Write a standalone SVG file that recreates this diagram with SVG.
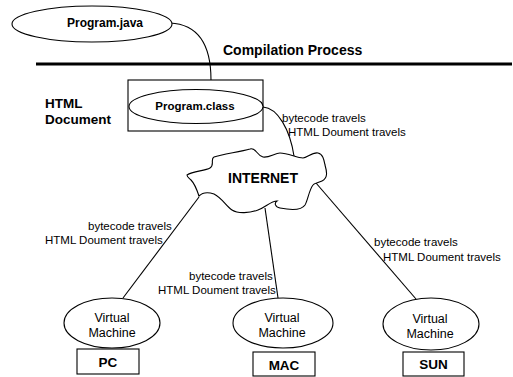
<svg xmlns="http://www.w3.org/2000/svg" width="513" height="377" viewBox="0 0 513 377">
<style>
.s{fill:#fff;stroke:#000;stroke-width:1.1}
.c{fill:none;stroke:#000;stroke-width:1.1}
.b{font-family:"Liberation Sans",Arial,sans-serif;font-weight:bold;fill:#000}
.n{font-family:"Liberation Sans",Arial,sans-serif;fill:#000}
.l{font-family:"Liberation Sans",Arial,sans-serif;font-size:11.5px;fill:#000}
</style>
<rect width="513" height="377" fill="#fff"/>
<g id="connectors">
<path class="c" d="M170,23 Q211,25 211,80"/>
<path class="c" d="M263,107 C278,108 290,130 294,156"/>
<line class="c" x1="199" y1="197" x2="123" y2="298"/>
<line class="c" x1="265" y1="208" x2="278" y2="298"/>
<line class="c" x1="316" y1="183" x2="416" y2="299"/>
</g>
<g id="divider">
<line x1="36" y1="64" x2="512" y2="64" stroke="#000" stroke-width="3"/>
<text class="b" x="223" y="55" font-size="14">Compilation Process</text>
</g>
<g id="program-java">
<ellipse class="s" cx="92" cy="24" rx="80" ry="18"/>
<text class="b" x="105" y="27" font-size="12" text-anchor="middle">Program.java</text>
</g>
<g id="html-document">
<text class="b" x="45" y="108" font-size="13.5">HTML</text>
<text class="b" x="45" y="124" font-size="13.5">Document</text>
<rect class="s" x="128" y="80" width="135" height="51"/>
</g>
<g id="program-class">
<ellipse class="s" cx="196" cy="106.5" rx="67" ry="17"/>
<text class="b" x="195" y="110" font-size="11.5" text-anchor="middle">Program.class</text>
</g>
<g id="internet">
<path class="s" d="M187,175 C193,171 205,171 210,168 C215,165 210,159 214,157 C222,154 240,152 250,149 C256,147 256,155 263,157 C269,158 275,153 280,153 C288,153 297,158 303,158 C307,158 312,152 318,153 C323,154 324,160 325,165 C327,172 328,178 322,181 C318,183 314,183 313,185 C309,190 308,200 305,205 C301,211 290,210 280,208 C275,207 274,203 277,201 C271,201 266,207 258,210 C250,213 238,214 232,210 C226,206 222,198 214,194 C208,192 203,192 199,196 C197,190 195,184 191,180 C189,178 187,177 187,175 Z"/>
<text class="b" x="263" y="183" font-size="14" text-anchor="middle">INTERNET</text>
</g>
<g id="labels">
<text class="l" x="282" y="122">bytecode travels</text>
<text class="l" x="288" y="136">HTML Doument travels</text>
<text class="l" x="88" y="230">bytecode travels</text>
<text class="l" x="45" y="244">HTML Doument travels</text>
<text class="l" x="189" y="280">bytecode travels</text>
<text class="l" x="158" y="294">HTML Doument travels</text>
<text class="l" x="374" y="246">bytecode travels</text>
<text class="l" x="383" y="261">HTML Doument travels</text>
</g>
<g id="vm-pc">
<ellipse class="s" cx="112" cy="323" rx="48" ry="25"/>
<text class="n" x="112" y="322" font-size="12.5" text-anchor="middle">Virtual</text>
<text class="n" x="112" y="337" font-size="12.5" text-anchor="middle">Machine</text>
</g>
<g id="pc">
<rect class="s" x="77" y="349" width="62" height="25"/>
<text class="b" x="108" y="367" font-size="13.5" text-anchor="middle">PC</text>
</g>
<g id="vm-mac">
<ellipse class="s" cx="283" cy="323" rx="50" ry="25"/>
<text class="n" x="282" y="322" font-size="12.5" text-anchor="middle">Virtual</text>
<text class="n" x="282" y="337" font-size="12.5" text-anchor="middle">Machine</text>
</g>
<g id="mac">
<rect class="s" x="253" y="352" width="62" height="24"/>
<text class="b" x="284" y="370" font-size="13.5" text-anchor="middle">MAC</text>
</g>
<g id="vm-sun">
<ellipse class="s" cx="431" cy="324" rx="48" ry="26"/>
<text class="n" x="430" y="323" font-size="12.5" text-anchor="middle">Virtual</text>
<text class="n" x="430" y="338" font-size="12.5" text-anchor="middle">Machine</text>
</g>
<g id="sun">
<rect class="s" x="403" y="352" width="61" height="24"/>
<text class="b" x="433.5" y="369" font-size="13.5" text-anchor="middle">SUN</text>
</g>
</svg>
